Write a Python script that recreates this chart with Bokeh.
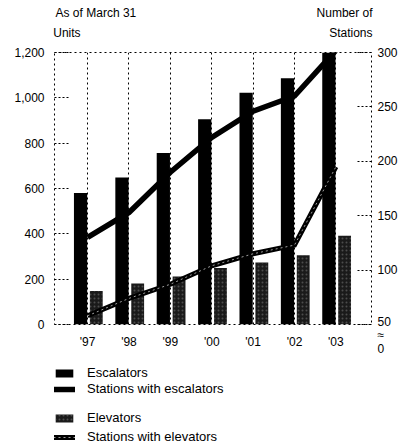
from bokeh.plotting import figure
from bokeh.layouts import column
from bokeh.models import (Range1d, LinearAxis, FixedTicker, NumeralTickFormatter,
                          Legend, LegendItem, ColumnDataSource)
from bokeh.transform import dodge
from bokeh.embed import file_html
from bokeh.resources import INLINE

# ---- data ----
years = ["'97", "'98", "'99", "'00", "'01", "'02", "'03"]
escalators = [580, 648, 757, 905, 1022, 1086, 1208]
elevators = [148, 181, 212, 249, 274, 306, 391]
stations_escalators = [130, 153, 190, 222, 246, 260, 302]
stations_elevators = [58, 74, 87, 104, 115, 123, 195]
units_ticks = [0, 200, 400, 600, 800, 1000, 1200]
station_ticks = [50, 100, 150, 200, 250, 300]

FONT = "Liberation Sans"

xs = list(range(len(years)))
src = ColumnDataSource(dict(x=xs, esc=escalators, elev=elevators,
                            s_esc=stations_escalators, s_elev=stations_elevators))

W, H1, H2 = 406, 355, 92
p = figure(width=W, height=H1, output_backend="svg", toolbar_location=None,
           x_range=Range1d(-0.8, 6.86), y_range=Range1d(0, 1200),
           min_border_left=54, min_border_right=35, min_border_top=52,
           min_border_bottom=31)
p.extra_y_ranges = {"stations": Range1d(50, 300)}

p.background_fill_color = "white"
p.border_fill_color = "white"
p.outline_line_color = "black"
p.outline_line_dash = "2 3"
p.outline_line_width = 1

# vertical dotted grid at category centres only
p.ygrid.visible = False
p.xgrid.ticker = FixedTicker(ticks=xs)
p.xgrid.grid_line_color = "black"
p.xgrid.grid_line_dash = "2 3"
p.xgrid.grid_line_width = 1


def style_axis(ax, standoff, size="12px"):
    ax.axis_line_color = None
    ax.minor_tick_line_color = None
    ax.major_label_standoff = standoff
    ax.major_label_text_font = FONT
    ax.major_label_text_font_size = size
    ax.major_label_text_color = "black"


# bottom axis (years)
xa = p.xaxis[0]
xa.ticker = FixedTicker(ticks=xs)
xa.major_label_overrides = {i: y for i, y in enumerate(years)}
xa.major_tick_line_color = None
xa.major_tick_in = 0
xa.major_tick_out = 0
style_axis(xa, 10)

# left axis (units)
ya = p.yaxis[0]
ya.ticker = FixedTicker(ticks=units_ticks)
ya.formatter = NumeralTickFormatter(format="0,0")
ya.major_tick_in = 14
ya.major_tick_out = 0
ya.major_tick_line_dash = "2 2"
ya.major_tick_line_color = "black"
style_axis(ya, 10)

# right axis (stations), with the axis-break mark under "50"
ra = LinearAxis(y_range_name="stations", ticker=FixedTicker(ticks=station_ticks))
ra.major_tick_in = 14
ra.major_tick_out = 0
ra.major_tick_line_dash = "2 2"
ra.major_tick_line_color = "black"
ra.major_label_overrides = {50: " \n \n50\n≈\n0"}
style_axis(ra, 6)
ra.major_label_text_line_height = 0.95
p.add_layout(ra, "right")

# header texts as top axes
a1 = LinearAxis(ticker=FixedTicker(ticks=[-0.5, 6.36]),
                major_label_overrides={-0.5: "Units", 6.36: "Stations"})
a1.major_tick_line_color = None
a1.major_tick_in = 0
a1.major_tick_out = 0
style_axis(a1, 13)
p.add_layout(a1, "above")

a2 = LinearAxis(ticker=FixedTicker(ticks=[0.2, 6.21]),
                major_label_overrides={0.2: "As of March 31", 6.21: "Number of"})
a2.major_tick_line_color = None
a2.major_tick_in = 0
a2.major_tick_out = 0
style_axis(a2, 3)
p.add_layout(a2, "above")

# styles
ESC_STYLE = dict(fill_color="black", line_color=None)
ELEV_STYLE = dict(fill_color="#1a1a1a", line_color=None, hatch_pattern=".",
                  hatch_color="#8a8a8a", hatch_scale=4, hatch_weight=0.7,
                  hatch_alpha=0.45)
SESC_STYLE = dict(line_color="black", line_width=5.5, line_join="miter")
SELEV_STYLE = dict(line_color="black", line_width=5, line_join="miter")
SELEV2_STYLE = dict(line_color="#bbbbbb", line_width=1, line_dash="2 3", line_alpha=0.85)

# bars
p.vbar(x=dodge("x", -0.17, range=p.x_range), top="esc", width=0.32, bottom=0,
       source=src, **ESC_STYLE)
p.vbar(x=dodge("x", 0.21, range=p.x_range), top="elev", width=0.31, bottom=0,
       source=src, **ELEV_STYLE)

# lines
p.line(x="x", y="s_esc", source=src, y_range_name="stations", **SESC_STYLE)
p.line(x="x", y="s_elev", source=src, y_range_name="stations", **SELEV_STYLE)
p.line(x="x", y="s_elev", source=src, y_range_name="stations", **SELEV2_STYLE)

# ---- legend panel below the chart ----
q = figure(width=W, height=H2, output_backend="svg", toolbar_location=None,
           x_range=Range1d(0, 1), y_range=Range1d(0, 1),
           x_axis_location=None, y_axis_location=None,
           min_border_left=0, min_border_right=0, min_border_top=0, min_border_bottom=0)
q.outline_line_color = None
q.grid.visible = False
# legend-key renderers: one sample each, kept outside the visible range
key = ColumnDataSource(dict(x=[-10], y=[-10]))
k_esc = q.vbar(x="x", top="y", width=1, source=key, **ESC_STYLE)
k_elev = q.vbar(x="x", top="y", width=1, source=key, **ELEV_STYLE)
k_sesc = q.line(x="x", y="y", source=key, **SESC_STYLE)
k_selev = q.line(x="x", y="y", source=key, **SELEV_STYLE)
k_selev2 = q.line(x="x", y="y", source=key, **SELEV2_STYLE)


def mk_legend(items, loc, spacing):
    lg = Legend(items=items, location=loc, orientation="vertical",
                glyph_width=22, glyph_height=10, label_height=15, spacing=spacing,
                label_standoff=12, padding=0, margin=0,
                border_line_color=None, background_fill_alpha=0,
                label_text_font=FONT, label_text_font_size="13px",
                label_text_color="black")
    q.add_layout(lg)
    return lg


mk_legend([LegendItem(label="Escalators", renderers=[k_esc]),
           LegendItem(label="Stations with escalators", renderers=[k_sesc])], (-1, 51), 1)
mk_legend([LegendItem(label="Elevators", renderers=[k_elev]),
           LegendItem(label="Stations with elevators", renderers=[k_selev, k_selev2])], (-1, 3), 4)

open("out.html", "w").write(file_html(column(p, q, spacing=0), INLINE))
